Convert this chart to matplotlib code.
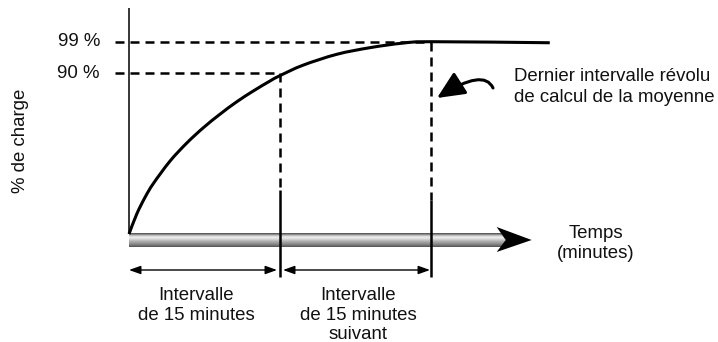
import numpy as np
import matplotlib
matplotlib.use("Agg")
import matplotlib.pyplot as plt
from matplotlib.patches import Polygon, FancyArrowPatch, PathPatch
from matplotlib.path import Path
from matplotlib.transforms import IdentityTransform

plt.rcParams['font.family'] = ['Liberation Sans', 'DejaVu Sans']

# ---- data -------------------------------------------------------------
# charge curve: time (minutes) and state of charge (%)
temps_min = [0.0, 0.77, 1.59, 2.41, 4.07, 5.73, 7.38, 9.04, 10.69, 12.35,
             14.01, 15.0, 17.28, 20.63, 23.94, 27.22, 30.0, 41.8]
charge_pct = [0.0, 11.2, 20.5, 28.2, 40.8, 50.9, 59.5, 67.1, 74.0, 80.1,
              85.7, 88.7, 92.3, 95.4, 97.3, 98.6, 99.0, 98.7]

niveaux = [90, 99]                       # reference levels (%)
niveaux_labels = ["90 %", "99 %"]
bornes_intervalles = [0, 15, 30]         # interval limits (minutes)
fin_axe_temps = 40                       # end of time arrow (minutes)

# ---- schematic vertical scale: % -> drawing height ----------------------
H90, H99 = 160.7, 192.3


def fwd(p):
    p = np.asarray(p, dtype=float)
    return np.where(p <= 90, p * H90 / 90, H90 + (p - 90) * (H99 - H90) / 9)


def inv(h):
    h = np.asarray(h, dtype=float)
    return np.where(h <= H90, h * 90 / H90, 90 + (h - H90) * 9 / (H99 - H90))


W, H = 718, 342
fig = plt.figure(figsize=(W / 100, H / 100), dpi=100)
ax = fig.add_axes([0, 0, 1, 1])
ax.set_yscale('function', functions=(fwd, inv))
MIN_PER_PX = 15 / 151
X0 = 129
ax.set_xlim(-X0 * MIN_PER_PX, (W - X0) * MIN_PER_PX)
Y0 = 234  # baseline row of the drawing
ax.set_ylim(float(inv(Y0 - H)), float(inv(Y0)))
ax.axis('off')


def px_x(dx):
    return dx * MIN_PER_PX


def h2p(h):
    return float(inv(h))


def pix(x, y):
    """top-left pixel position -> data coordinates"""
    return (px_x(x - X0), h2p(Y0 - y))


FS = 13.4
LW = 1.8
dash = (3.6, 2.4)
INK = '#111111'

# vertical axis
ax.plot([0, 0], [0, h2p(226)], color='black', lw=1.1, solid_capstyle='butt', zorder=3)

# horizontal dashed reference lines
t_lvl = {90: bornes_intervalles[1], 99: bornes_intervalles[2]}
for lvl, lab in zip(niveaux, niveaux_labels):
    ax.plot([px_x(-14), t_lvl[lvl]], [lvl, lvl], color='black', lw=LW,
            dashes=dash, dash_capstyle='butt', zorder=2)
    ax.annotate(lab, xy=(0, lvl), xytext=(-29, 0), textcoords='offset pixels',
                ha='right', va='center', fontsize=FS, color=INK)

# vertical interval markers
solid_top = {15: 44, 30: 34}
for t in bornes_intervalles[1:]:
    lvl = 90 if t == 15 else 99
    ax.plot([t, t], [lvl, h2p(solid_top[t])], color='black', lw=LW,
            dashes=dash, dash_capstyle='butt', zorder=2)
    ax.plot([t, t], [h2p(solid_top[t]), h2p(-43)], color='black', lw=LW,
            solid_capstyle='butt', zorder=5)

# charge curve, drawn as a smooth Catmull-Rom path through the points
P = ax.transData.transform(np.column_stack([temps_min, charge_pct]))
Pe = np.vstack([P[0], P, P[-1]])
verts, codes = [P[0]], [Path.MOVETO]
for i in range(1, len(Pe) - 2):
    p0, p1, p2, p3 = Pe[i - 1], Pe[i], Pe[i + 1], Pe[i + 2]
    verts += [p1 + (p2 - p0) / 6, p2 - (p3 - p1) / 6, p2]
    codes += [Path.CURVE4] * 3
ax.add_patch(PathPatch(Path(verts, codes), facecolor='none', edgecolor='black',
                       lw=2.2, capstyle='butt', transform=IdentityTransform(),
                       zorder=4))

# time axis: shaded cylinder + arrow head
bar_end = fin_axe_temps - px_x(27)
shade = ['#5c5c5c', '#8a8a8a', '#bdbdbd', '#dedede', '#e9e9e9', '#e0e0e0',
         '#cecece', '#bcbcbc', '#acacac', '#9e9e9e', '#909090', '#808080',
         '#6e6e6e', '#5a5a5a']
top = 1.0
for i, c in enumerate(shade):
    ax.fill_between([0, bar_end], h2p(top - i), h2p(top - i - 1), color=c,
                    lw=0, zorder=3)

yc = h2p(-6)
tip = ax.transData.transform((fin_axe_temps, yc))
head = np.array([[0, 0], [-35, 13], [-26, 0], [-35, -12]]) + tip
ax.add_patch(Polygon(head, closed=True, facecolor='black', edgecolor='none',
                     transform=IdentityTransform(), zorder=6))

# interval span arrows
y_span = h2p(-36)
spans = [(0, 15 - px_x(3)), (15 + px_x(3), 30 - px_x(1))]
for a, b in spans:
    ax.annotate('', xy=(b, y_span), xytext=(a, y_span),
                arrowprops=dict(arrowstyle='<|-|>,head_length=0.7,head_width=0.25',
                                lw=1.0, color='black', shrinkA=0, shrinkB=0,
                                mutation_scale=10))


# texts, one line at a time, positioned by baseline (pixel rows)
def lines(x, baselines, strings, ha='center'):
    for yb, s in zip(baselines, strings):
        ax.text(x / W, 1 - yb / H, s, transform=ax.transAxes, fontsize=FS,
                color=INK, ha=ha, va='baseline')


lines(196, [300, 320.5], ["Intervalle", "de 15 minutes"])
lines(358, [300, 320, 339], ["Intervalle", "de 15 minutes", "suivant"])
lines(596, [238.5, 257.8], ["Temps", "(minutes)"])
lines(514, [80.7, 101.7], ["Dernier intervalle révolu", "de calcul de la moyenne"], ha='left')
ax.text(21 / W, 1 - 141 / H, "% de charge", transform=ax.transAxes, fontsize=FS,
        color=INK, ha='center', va='center', rotation=90)

# curved pointer toward the last complete interval
ptr = Path([pix(493, 88), pix(484, 68), pix(437, 98)],
           [Path.MOVETO, Path.CURVE3, Path.CURVE3])
ax.add_patch(FancyArrowPatch(path=ptr,
                             arrowstyle='-|>,head_length=1.2,head_width=0.55',
                             mutation_scale=14, lw=2.2, color='black',
                             shrinkA=0, shrinkB=0, zorder=6))

fig.savefig('out.png', dpi=100)
